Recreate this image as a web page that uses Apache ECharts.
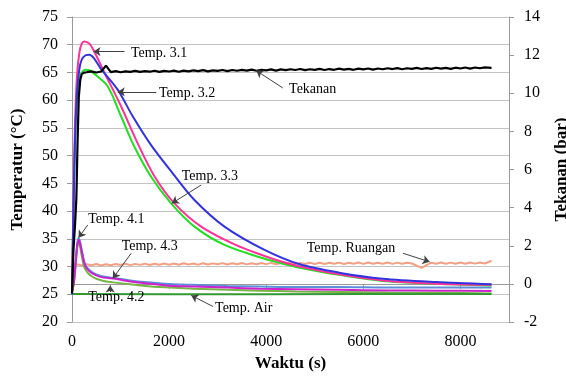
<!DOCTYPE html>
<html>
<head>
<meta charset="utf-8">
<script src="https://cdn.jsdelivr.net/npm/echarts@6/dist/echarts.min.js"></script>
<style>
  html, body { margin: 0; padding: 0; background: #fff; }
  #chart { width: 566px; height: 379px; }
</style>
</head>
<body>
<div id="chart"></div>
<script>
// Temp. 3.x (s, degC)
var time31 = [0, 30, 60, 100, 150, 200, 254, 357, 450, 666, 1010, 1353, 1697, 2110, 2660, 3347, 3965, 4310, 4690, 5500, 6400, 7500, 8640];
var temp31 = [25.0, 42.0, 55.0, 64.0, 68.5, 70.2, 70.6, 70.2, 68.9, 65.0, 58.9, 52.2, 46.3, 41.4, 37.2, 34.0, 31.9, 30.9, 30.0, 28.6, 27.5, 26.9, 26.7];

var time32 = [0, 30, 60, 100, 150, 200, 280, 357, 450, 734, 1010, 1285, 1629, 2041, 2522, 3140, 3965, 4310, 4690, 5500, 6400, 7500, 8640];
var temp32 = [25.0, 40.0, 52.0, 60.0, 63.8, 65.0, 65.5, 65.4, 64.8, 62.5, 57.1, 51.6, 46.2, 41.4, 37.2, 33.9, 31.4, 30.6, 29.8, 28.5, 27.4, 26.9, 26.6];

var time33 = [0, 30, 60, 100, 150, 200, 280, 357, 450, 600, 941, 1250, 1629, 2075, 2522, 3140, 3965, 4690, 5500, 6400, 7500, 8640];
var temp33 = [25.0, 40.0, 52.0, 61.0, 65.5, 67.3, 68.1, 68.2, 67.6, 65.6, 61.9, 57.1, 51.9, 46.8, 42.0, 37.2, 33.0, 30.4, 28.9, 27.8, 27.2, 26.8];

// Temp. 4.x
var time4 = [0, 40, 80, 110, 136, 165, 200, 240, 280, 340, 412, 500, 650, 893, 1200, 1500, 1924, 2500, 3200, 3860, 4600, 5500, 6500, 7500, 8640];
var temp41 = [25.5, 27.5, 31.5, 34.3, 35.1, 34.5, 33.0, 31.3, 30.2, 29.5, 29.0, 28.6, 28.2, 27.9, 27.5, 27.2, 26.9, 26.7, 26.5, 26.4, 26.3, 26.3, 26.2, 26.2, 26.2];
var temp42 = [25.3, 27.0, 30.8, 33.5, 34.3, 33.6, 32.0, 30.3, 29.4, 28.7, 28.2, 27.8, 27.4, 27.1, 26.8, 26.5, 26.25, 26.0, 25.8, 25.65, 25.5, 25.4, 25.3, 25.25, 25.15];
var temp43 = [25.4, 27.3, 31.2, 34.0, 34.8, 34.2, 32.7, 31.0, 30.0, 29.3, 28.8, 28.4, 28.0, 27.8, 27.3, 27.0, 26.6, 26.4, 26.2, 26.0, 25.9, 25.8, 25.7, 25.65, 25.6];

// Temp. Air
var timeAir = [0, 2000, 4000, 6000, 8640];
var tempAir = [25.05, 25.0, 25.0, 25.05, 25.05];

// Temp. Ruangan, every 100 s
var timeRuang = [0, 100, 200, 300, 400, 500, 600, 700, 800, 900,
  1000, 1100, 1200, 1300, 1400, 1500, 1600, 1700, 1800, 1900,
  2000, 2100, 2200, 2300, 2400, 2500, 2600, 2700, 2800, 2900,
  3000, 3100, 3200, 3300, 3400, 3500, 3600, 3700, 3800, 3900,
  4000, 4100, 4200, 4300, 4400, 4500, 4600, 4700, 4800, 4900,
  5000, 5100, 5200, 5300, 5400, 5500, 5600, 5700, 5800, 5900,
  6000, 6100, 6200, 6300, 6400, 6500, 6600, 6700, 6800, 6900,
  7000, 7100, 7200, 7300, 7400, 7500, 7600, 7700, 7800, 7900,
  8000, 8100, 8200, 8300, 8400, 8500, 8640];
var tempRuang = [30.20, 30.42, 30.18, 30.40, 30.22, 30.45, 30.20, 30.43, 30.25, 30.46,
  30.28, 30.50, 30.26, 30.48, 30.30, 30.52, 30.27, 30.49, 30.32, 30.54,
  30.34, 30.56, 30.33, 30.58, 30.36, 30.55, 30.34, 30.60, 30.38, 30.57,
  30.40, 30.62, 30.38, 30.60, 30.42, 30.64, 30.39, 30.61, 30.43, 30.63,
  30.44, 30.66, 30.42, 30.65, 30.46, 30.68, 30.44, 30.66, 30.47, 30.69,
  30.46, 30.70, 30.47, 30.68, 30.49, 30.71, 30.46, 30.69, 30.50, 30.72,
  30.48, 30.72, 30.49, 30.70, 30.51, 30.73, 30.48, 30.71, 30.52, 30.70,
  30.55, 30.15, 29.75, 30.25, 30.70, 30.50, 30.72, 30.49, 30.71, 30.52,
  30.73, 30.50, 30.72, 30.53, 30.74, 30.55, 31.05];

// Tekanan (bar)
var timeTekanan = [0, 30, 60, 90, 115, 140, 170, 200, 250,
  300, 400, 500, 600, 700, 800, 900, 1000, 1100, 1200,
  1300, 1400, 1500, 1600, 1700, 1800, 1900, 2000, 2100, 2200,
  2300, 2400, 2500, 2600, 2700, 2800, 2900, 3000, 3100, 3200,
  3300, 3400, 3500, 3600, 3700, 3800, 3900, 4000, 4100, 4200,
  4300, 4400, 4500, 4600, 4700, 4800, 4900, 5000, 5100, 5200,
  5300, 5400, 5500, 5600, 5700, 5800, 5900, 6000, 6100, 6200,
  6300, 6400, 6500, 6600, 6700, 6800, 6900, 7000, 7100, 7200,
  7300, 7400, 7500, 7600, 7700, 7800, 7900, 8000, 8100, 8200,
  8300, 8400, 8500, 8640];
var tekanan = [-0.5, 1.8, 3.0, 4.5, 7.5, 9.8, 10.7, 11.0, 11.08,
  11.10, 11.15, 11.09, 11.14, 11.45, 11.11, 11.16, 11.10, 11.15, 11.12,
  11.17, 11.12, 11.16, 11.13, 11.18, 11.12, 11.17, 11.14, 11.19, 11.13,
  11.19, 11.15, 11.20, 11.16, 11.21, 11.15, 11.20, 11.17, 11.22, 11.16,
  11.22, 11.18, 11.23, 11.19, 11.24, 11.18, 11.23, 11.20, 11.25, 11.19,
  11.25, 11.21, 11.26, 11.22, 11.27, 11.21, 11.26, 11.23, 11.28, 11.22,
  11.27, 11.23, 11.29, 11.24, 11.28, 11.23, 11.29, 11.25, 11.30, 11.24,
  11.30, 11.26, 11.31, 11.27, 11.32, 11.26, 11.31, 11.28, 11.33, 11.27,
  11.32, 11.28, 11.34, 11.29, 11.33, 11.28, 11.34, 11.30, 11.35, 11.29,
  11.35, 11.31, 11.36, 11.33];

// annotations, in (s, degC)
var noteText = ["Temp. 3.1", "Temp. 3.2", "Tekanan", "Temp. 3.3", "Temp. 4.1", "Temp. 4.3", "Temp. 4.2", "Temp. Air", "Temp. Ruangan"];
var noteAt = [[1205, 68.5], [1782, 61.3], [4460, 61.9], [2249, 46.3], [325, 38.5], [1013, 33.6], [325, 24.5], [2936, 22.4], [4825, 33.3]];
var noteTail = [[1082, 68.76], [1734, 61.5], [4342, 62.2], [2661, 44.7], [325, 37.5], [1219, 32.4], [787, 25.4], [2901, 22.8], [6815, 32.4]];
var noteHead = [[443, 68.76], [943, 61.5], [3794, 65.33], [2056, 41.4], [134, 35.2], [840, 27.85], [787, 26.6], [2456, 24.8], [7365, 30.85]];

var FONT = "'Liberation Serif', 'Times New Roman', serif";

function pairs(xs, ys) {
    var out = [];
    for (var i = 0; i < xs.length; i++) {
        out.push([xs[i], ys[i]]);
    }
    return out;
}

function lineSeries(name, xs, ys, color, width, smooth, axis) {
    return {
        name: name,
        type: "line",
        yAxisIndex: axis || 0,
        data: pairs(xs, ys),
        showSymbol: false,
        smooth: smooth,
        lineStyle: { color: color, width: width },
        itemStyle: { color: color }
    };
}

var arrows = [];
var labels = [];
for (var i = 0; i < noteText.length; i++) {
    arrows.push([{ coord: noteTail[i] }, { coord: noteHead[i] }]);
    labels.push({ name: noteText[i], coord: noteAt[i] });
}

var chart = echarts.init(document.getElementById("chart"));

var airSeries = lineSeries("Temp. Air", timeAir, tempAir, "#339933", 2, false);
airSeries.markLine = {
    silent: true,
    animation: false,
    symbol: ["none", "arrow"],
    symbolSize: 7,
    lineStyle: { color: "#404040", width: 1, type: "solid" },
    label: { show: false },
    data: arrows
};
airSeries.markPoint = {
    silent: true,
    animation: false,
    symbol: "circle",
    symbolSize: 1,
    itemStyle: { color: "rgba(0,0,0,0)" },
    label: {
        show: true,
        position: "right",
        distance: 0,
        formatter: "{b}",
        color: "#000",
        fontFamily: FONT,
        fontSize: 14
    },
    data: labels
};

var nameStyle = { color: "#000", fontFamily: FONT, fontSize: 17, fontWeight: "bold" };
var grayLine = { color: "#9a9a9a", width: 1 };

var option = {
    animation: false,
    backgroundColor: "#fff",
    grid: { left: 72, right: 57, top: 17, bottom: 57, outerBoundsMode: "none" },
    xAxis: {
        type: "value",
        min: 0,
        max: 9000,
        interval: 2000,
        name: "Waktu (s)",
        nameLocation: "middle",
        nameGap: 30,
        nameTextStyle: nameStyle,
        axisLine: { lineStyle: grayLine },
        axisTick: { show: true, length: 5, lineStyle: grayLine },
        axisLabel: {
            margin: 12,
            showMaxLabel: false,
            color: "#000",
            fontFamily: FONT,
            fontSize: 16,
            formatter: function (value) {
                return String(value);
            }
        },
        splitLine: { show: false }
    },
    yAxis: [
        {
            type: "value",
            min: 20,
            max: 75,
            interval: 5,
            name: "Temperatur (°C)",
            nameLocation: "middle",
            nameGap: 46,
            nameTextStyle: nameStyle,
            axisLine: { show: true, lineStyle: grayLine },
            axisTick: { show: true, length: 5, lineStyle: grayLine },
            axisLabel: { margin: 14, color: "#000", fontFamily: FONT, fontSize: 16 },
            splitLine: { show: true, lineStyle: { color: "#c4c4c4", width: 1 } }
        },
        {
            type: "value",
            position: "right",
            min: -2,
            max: 14,
            interval: 2,
            name: "Tekanan (bar)",
            nameLocation: "middle",
            nameGap: 44,
            nameTextStyle: nameStyle,
            axisLine: { show: true, lineStyle: grayLine },
            axisTick: { show: true, length: 5, lineStyle: grayLine },
            axisLabel: { margin: 15, color: "#000", fontFamily: FONT, fontSize: 16 },
            splitLine: { show: false }
        }
    ],
    series: [
        lineSeries("Temp. Ruangan", timeRuang, tempRuang, "#f2a084", 2, false),
        lineSeries("Temp. 4.2", time4, temp42, "#77b347", 2, 0.3),
        lineSeries("Temp. 4.1", time4, temp41, "#5b8fd8", 2, 0.3),
        lineSeries("Temp. 4.3", time4, temp43, "#cc22cc", 2, 0.3),
        airSeries,
        lineSeries("Temp. 3.2", time32, temp32, "#22dd22", 2, 0.3),
        lineSeries("Temp. 3.1", time31, temp31, "#ff3399", 2, 0.3),
        lineSeries("Temp. 3.3", time33, temp33, "#3333dd", 2, 0.3),
        lineSeries("Tekanan", timeTekanan, tekanan, "#000000", 2.2, false, 1)
    ]
};

chart.setOption(option);
</script>
</body>
</html>
